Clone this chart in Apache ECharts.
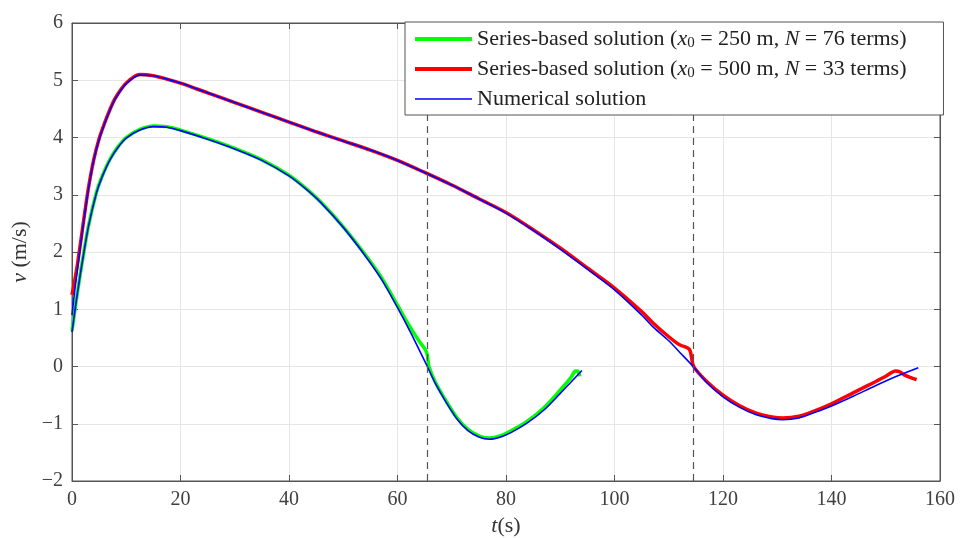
<!DOCTYPE html>
<html>
<head>
<meta charset="utf-8">
<script src="https://cdn.jsdelivr.net/npm/echarts@6/dist/echarts.min.js"></script>
<style>html,body{margin:0;padding:0;background:#fff;}#c{width:961px;height:538px;}</style>
</head>
<body>
<div id="c"></div>
<script>
// x0 = 500 m case: numerical solution
var tNum500 = [0, 0.5, 1, 2, 3, 4, 5, 6, 7, 8, 10, 12.5, 15, 17.5, 20, 25, 30, 35, 40, 45, 50, 55, 60, 65, 70, 75, 80, 85, 90, 95, 100, 105, 107, 110, 112, 114.5, 117, 120, 123, 126, 129, 131, 134, 137, 140, 144, 148, 152, 156];
var vNum500 = [0.9, 1.32, 1.7, 2.42, 3.08, 3.6, 3.97, 4.24, 4.48, 4.68, 4.94, 5.09, 5.08, 5.02, 4.95, 4.78, 4.61, 4.44, 4.27, 4.1, 3.94, 3.78, 3.6, 3.39, 3.17, 2.93, 2.68, 2.38, 2.05, 1.7, 1.34, 0.9, 0.7, 0.45, 0.25, 0.0, -0.28, -0.53, -0.71, -0.84, -0.91, -0.93, -0.9, -0.8, -0.69, -0.52, -0.34, -0.17, -0.02];
// x0 = 500 m case: series-based solution (N = 33)
var tSer500 = [0, 0.5, 1, 2, 3, 4, 5, 6, 7, 8, 10, 12.5, 15, 17.5, 20, 25, 30, 35, 40, 45, 50, 55, 60, 65, 70, 75, 80, 85, 90, 95, 100, 105, 107, 110, 112, 113.8, 114.6, 117, 120, 123, 126, 129, 131, 134, 137, 140, 144, 148, 150, 151.8, 152.5, 153.5, 155.7];
var vSer500 = [1.25, 1.5, 1.78, 2.45, 3.1, 3.61, 3.98, 4.25, 4.49, 4.69, 4.95, 5.1, 5.08, 5.02, 4.95, 4.78, 4.61, 4.44, 4.27, 4.1, 3.94, 3.78, 3.6, 3.39, 3.17, 2.93, 2.69, 2.39, 2.07, 1.72, 1.37, 0.96, 0.77, 0.52, 0.38, 0.3, 0.0, -0.26, -0.5, -0.68, -0.81, -0.88, -0.9, -0.87, -0.77, -0.65, -0.46, -0.27, -0.17, -0.08, -0.09, -0.15, -0.23];
// x0 = 250 m case: numerical solution
var tNum250 = [0, 0.5, 1, 1.5, 2, 3, 4.5, 5.5, 7, 8.5, 10, 12.5, 15, 17.5, 20, 25, 30, 35, 40, 43, 46, 50, 54, 57, 60, 62.5, 65.5, 67, 69, 71, 73, 75, 77, 79, 81, 84, 87, 90, 92, 94];
var vNum250 = [0.6, 0.95, 1.28, 1.59, 1.88, 2.43, 3.03, 3.3, 3.61, 3.83, 3.99, 4.13, 4.19, 4.18, 4.12, 3.97, 3.8, 3.6, 3.33, 3.11, 2.85, 2.43, 1.94, 1.53, 1.03, 0.58, 0.0, -0.3, -0.63, -0.92, -1.12, -1.23, -1.27, -1.23, -1.15, -0.98, -0.76, -0.47, -0.27, -0.07];
// x0 = 250 m case: series-based solution (N = 76)
var tSer250 = [0, 0.5, 1, 1.5, 2, 3, 4.5, 5.5, 7, 8.5, 10, 12.5, 15, 17.5, 20, 25, 30, 35, 40, 43, 46, 50, 54, 57, 60, 62, 64, 65.1, 65.5, 65.8, 67, 69, 71, 73, 75, 77, 79, 81, 84, 87, 90, 92, 92.8, 93.2, 93.6];
var vSer250 = [0.62, 0.96, 1.29, 1.6, 1.89, 2.44, 3.04, 3.31, 3.62, 3.84, 4.0, 4.14, 4.2, 4.19, 4.13, 3.98, 3.81, 3.61, 3.34, 3.12, 2.86, 2.44, 1.96, 1.56, 1.07, 0.74, 0.44, 0.3, 0.2, 0.0, -0.28, -0.61, -0.9, -1.1, -1.21, -1.25, -1.21, -1.12, -0.95, -0.72, -0.41, -0.19, -0.08, -0.08, -0.17];
// switching times (dashed lines)
var switchTimes = [65.4, 114.5];
var xTicks = [0, 20, 40, 60, 80, 100, 120, 140, 160];
var yTicks = [-2, -1, 0, 1, 2, 3, 4, 5, 6];
var legendNames = ['s250', 's500', 'num'];
var legendTexts = {
  s250: 'Series-based solution ({i|x}{sub|0} = 250 m, {i|N} = 76 terms)',
  s500: 'Series-based solution ({i|x}{sub|0} = 500 m, {i|N} = 33 terms)',
  num: 'Numerical solution'
};

function pairs(t, v) { return t.map(function (x, i) { return [x, v[i]]; }); }
var FONT = '"Liberation Serif", "DejaVu Serif", serif';
var chart = echarts.init(document.getElementById('c'), null, { renderer: 'canvas' });
var tickFmt = function (v) { return String(v).replace('-', '\u2212'); };
var axisLineStyle = { color: '#555', width: 1 };
var legendWidths = { s250: 4, s500: 4, num: 1.6 };
chart.setOption({
  backgroundColor: '#fff',
  animation: false,
  grid: { left: 72, right: 21, top: 23, bottom: 57, show: true, borderColor: '#555', borderWidth: 1, outerBoundsMode: 'none', containLabel: false },
  xAxis: [{
    type: 'value', min: xTicks[0], max: xTicks[xTicks.length - 1], interval: 20,
    axisLine: { show: true, onZero: false, lineStyle: axisLineStyle },
    axisTick: { show: true, inside: true, length: 6, lineStyle: axisLineStyle },
    axisLabel: { color: '#404040', fontFamily: FONT, fontSize: 20, margin: 9, formatter: tickFmt },
    splitLine: { show: true, lineStyle: { color: '#e6e6e6', width: 1 } },
    name: '{i|t}(s)', nameLocation: 'middle', nameGap: 30,
    nameTextStyle: { color: '#333', fontFamily: FONT, fontSize: 22, rich: { i: { fontStyle: 'italic', fontFamily: FONT, fontSize: 22, color: '#333' } } }
  }, {
    type: 'value', position: 'top', min: xTicks[0], max: xTicks[xTicks.length - 1], interval: 20,
    axisLine: { show: true, onZero: false, lineStyle: axisLineStyle },
    axisTick: { show: true, inside: true, length: 6, lineStyle: axisLineStyle },
    axisLabel: { show: false }, splitLine: { show: false }
  }],
  yAxis: [{
    type: 'value', min: yTicks[0], max: yTicks[yTicks.length - 1], interval: 1,
    axisLine: { show: true, onZero: false, lineStyle: axisLineStyle },
    axisTick: { show: true, inside: true, length: 6, lineStyle: axisLineStyle },
    axisLabel: { color: '#404040', fontFamily: FONT, fontSize: 20, margin: 9, formatter: tickFmt },
    splitLine: { show: true, lineStyle: { color: '#e6e6e6', width: 1 } },
    name: '{i|v} (m/s)', nameLocation: 'middle', nameGap: 36, nameRotate: 90,
    nameTextStyle: { color: '#333', fontFamily: FONT, fontSize: 22, rich: { i: { fontStyle: 'italic', fontFamily: FONT, fontSize: 22, color: '#333' } } }
  }, {
    type: 'value', position: 'right', min: yTicks[0], max: yTicks[yTicks.length - 1], interval: 1,
    axisLine: { show: true, onZero: false, lineStyle: axisLineStyle },
    axisTick: { show: true, inside: true, length: 6, lineStyle: axisLineStyle },
    axisLabel: { show: false }, splitLine: { show: false }
  }],
  legend: {
    orient: 'vertical', left: 405, top: 22,
    data: legendNames.map(function (n) { return { name: n, lineStyle: { width: legendWidths[n] } }; }),
    backgroundColor: '#fff', borderColor: '#555', borderWidth: 1, borderRadius: 0,
    padding: [6, 37, 5, 8], itemWidth: 57, itemHeight: 14, itemGap: 7, z: 10,
    itemStyle: { opacity: 0, color: 'rgba(0,0,0,0)', borderWidth: 0 },
    formatter: function (n) { return legendTexts[n]; },
    textStyle: {
      color: '#222', fontFamily: FONT, fontSize: 22,
      rich: {
        i: { fontStyle: 'italic', fontFamily: FONT, fontSize: 22, color: '#222' },
        sub: { fontFamily: FONT, fontSize: 15, color: '#222', verticalAlign: 'bottom', padding: [9, 0, 0, 0] }
      }
    }
  },
  series: [{
    name: 's250', type: 'line', showSymbol: false, symbol: 'none', smooth: 0.3, z: 2,
    lineStyle: { color: '#00ff00', width: 3.5 }, itemStyle: { color: '#00ff00' },
    data: pairs(tSer250, vSer250)
  }, {
    name: 's500', type: 'line', showSymbol: false, symbol: 'none', smooth: 0.3, z: 2,
    lineStyle: { color: '#ff0000', width: 3.5 }, itemStyle: { color: '#ff0000' },
    data: pairs(tSer500, vSer500)
  }, {
    name: 'num', type: 'line', showSymbol: false, symbol: 'none', smooth: 0.3, z: 3,
    lineStyle: { color: '#0000ff', width: 1.6 }, itemStyle: { color: '#0000ff' },
    data: pairs(tNum500, vNum500)
  }, {
    name: 'num', type: 'line', showSymbol: false, symbol: 'none', smooth: 0.3, z: 3,
    lineStyle: { color: '#0000ff', width: 1.6 }, itemStyle: { color: '#0000ff' },
    data: pairs(tNum250, vNum250),
    markLine: {
      silent: true, symbol: 'none', label: { show: false },
      lineStyle: { color: '#555', type: [7, 5], width: 1.2 },
      data: switchTimes.map(function (t) { return { xAxis: t }; })
    }
  }]
});
</script>
</body>
</html>
